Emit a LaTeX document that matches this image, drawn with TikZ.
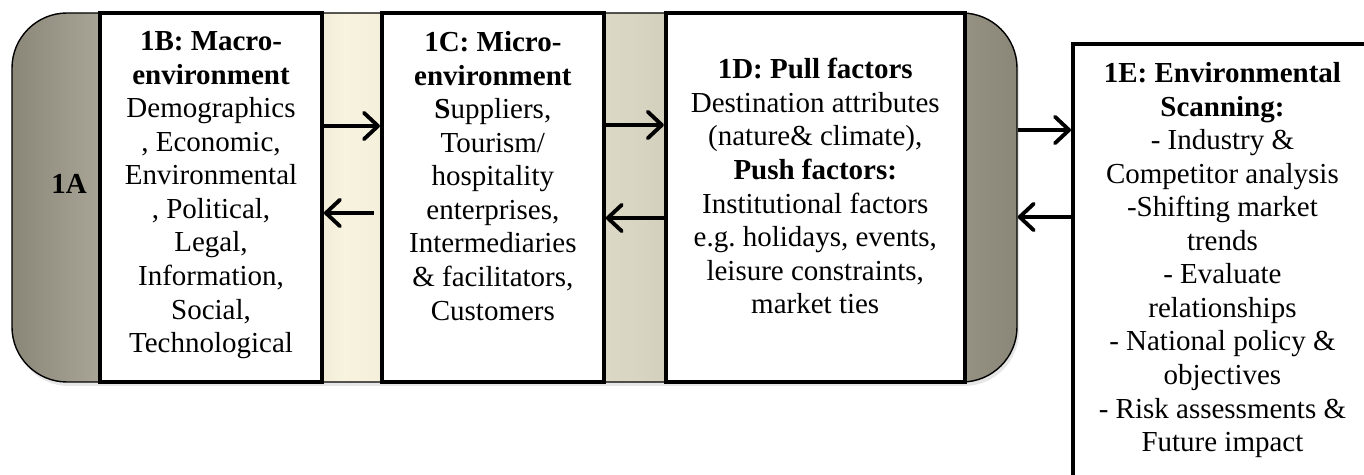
\documentclass[tikz,border=0pt]{standalone}
\usepackage{fontspec}
\setmainfont{Liberation Serif}
\usetikzlibrary{arrows.meta, shadows, positioning, calc}
\definecolor{envdark}{HTML}{8A8778}
\definecolor{envmid}{HTML}{A9A697}
\definecolor{envcream}{HTML}{F7F3DE}
\definecolor{envbeige}{HTML}{D9D5C3}
\pgfdeclarehorizontalshading{envshade}{100bp}{color(0bp)=(envdark); color(25bp)=(envdark); color(29.5bp)=(envmid); color(41.5bp)=(envcream); color(56bp)=(envbeige); color(75bp)=(envdark); color(100bp)=(envdark)}

\begin{document}
\begin{tikzpicture}[
    factorbox/.style={draw=black, line width=2.2pt, fill=white, minimum height=7.38cm, inner sep=0pt},
    factortext/.style={align=center, inner sep=0pt, anchor=north, font=\fontsize{16.5}{19.1}\selectfont},
    link/.style={line width=2.2pt, -{Straight Barb[length=8pt,width=15pt,round]}}
  ]
  \useasboundingbox (0,0) rectangle (27.28,9.5);
  \clip (0,0) rectangle (27.28,9.5);

  % Banda exterior 1A
  \node[draw=black, line width=0.8pt, rounded corners=1.1cm, shading=envshade, minimum width=20.1cm, minimum height=7.38cm,
        drop shadow={opacity=0.2, shadow xshift=0.04cm, shadow yshift=-0.08cm}] (env) at (10.29,5.55) {};
  \node[font=\fontsize{16.5}{20}\selectfont\bfseries] (lab) at (1.38,5.82) {1A};

  % Cajas de factores
  \node[factorbox, minimum width=4.44cm] (macro) at (4.22,5.55) {};
  \node[factorbox, minimum width=4.44cm, right=1.12cm of macro] (micro) {};
  \node[factorbox, minimum width=5.98cm, right=1.16cm of micro] (pull) {};
  \node[factorbox, minimum width=5.98cm, minimum height=9.2cm, anchor=north west] (scan) at (21.42,8.66) {};

  % Textos
  \node[factortext, below=0.4cm of macro.north] (macrotxt) {\textbf{1B: Macro-}\\\textbf{environment}\\Demographics\\, Economic,\\Environmental\\, Political,\\Legal,\\Information,\\Social,\\Technological};
  \node[factortext, below=0.4cm of micro.north] (microtxt) {\textbf{1C: Micro-}\\\textbf{environment}\\\textbf{S}uppliers,\\Tourism/\\hospitality\\enterprises,\\Intermediaries\\\& facilitators,\\Customers};
  \node[factortext, below=0.94cm of pull.north] (pulltxt) {\textbf{1D: Pull factors}\\Destination attributes\\(nature\& climate),\\\textbf{Push factors:}\\Institutional factors\\e.g.\ holidays, events,\\leisure constraints,\\market ties};
  \node[factortext, below=0.4cm of scan.north] (scantxt) {\textbf{1E: Environmental}\\\textbf{Scanning:}\\- Industry \&\\Competitor analysis\\-Shifting market\\trends\\- Evaluate\\relationships\\- National policy \&\\objectives\\- Risk assessments \&\\Future impact};

  % Flechas de ida y vuelta
  \coordinate (fwdA) at (0,6.98);
  \coordinate (bckA) at (0,5.24);
  \coordinate (fwdB) at (0,7.0);
  \coordinate (bckB) at (0,5.14);
  \coordinate (fwdC) at (0,6.9);
  \coordinate (bckC) at (0,5.16);
  \draw[link] (macro.east |- fwdA) -- (micro.west |- fwdA);
  \draw[link, shorten <=0.12cm] (micro.west |- bckA) -- (macro.east |- bckA);
  \draw[link] (micro.east |- fwdB) -- (pull.west |- fwdB);
  \draw[link] (pull.west |- bckB) -- (micro.east |- bckB);
  \draw[link] (env.east |- fwdC) -- (scan.west |- fwdC);
  \draw[link] (scan.west |- bckC) -- (env.east |- bckC);
\end{tikzpicture}
\end{document}
